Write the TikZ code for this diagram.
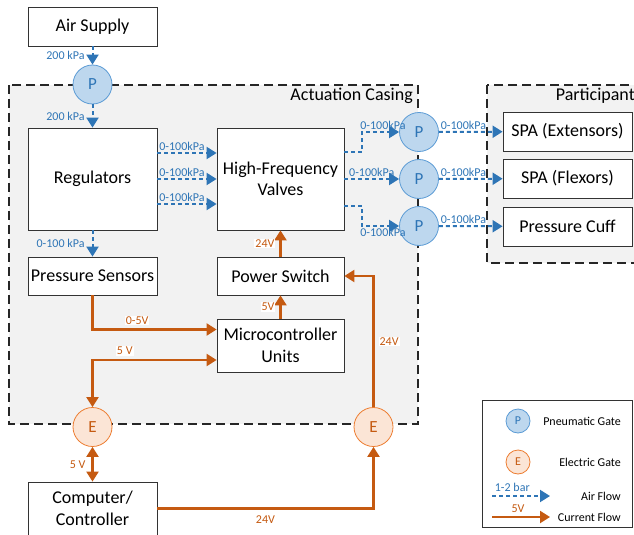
\documentclass[tikz,border=0pt]{standalone}
\usepackage{fontspec}
\setmainfont{Carlito}
\usetikzlibrary{arrows.meta,calc,positioning}

\definecolor{airblue}{HTML}{2E75B6}
\definecolor{gateblue}{HTML}{BDD7EE}
\definecolor{gatebluedraw}{HTML}{5B9BD5}
\definecolor{wireorange}{HTML}{C55A11}
\definecolor{gateorange}{HTML}{FBE5D6}
\definecolor{gateorangedraw}{HTML}{ED7D31}
\definecolor{casegray}{HTML}{F2F2F2}

\tikzset{
  block/.style={draw=black!80, line width=0.8pt, fill=white, minimum width=129pt,
    inner sep=1pt, align=center, font=\fontsize{18}{21.5}\selectfont},
  pgate/.style={circle, draw=gatebluedraw, fill=gateblue, line width=0.8pt,
    minimum size=39pt, inner sep=0pt, text=airblue, font=\fontsize{17}{20}\selectfont},
  egate/.style={circle, draw=gateorangedraw, fill=gateorange, line width=0.8pt,
    minimum size=39pt, inner sep=0pt, text=wireorange, font=\fontsize{17}{20}\selectfont},
  tip/.style={-{Triangle[length=10pt,width=12pt]}},
  airflow/.style={airblue, line width=2pt, dash pattern=on 4pt off 3pt, tip},
  current/.style={wireorange, line width=2.2pt, tip},
  dualcurrent/.style={wireorange, line width=2.2pt,
    {Triangle[length=10pt,width=12pt]}-{Triangle[length=10pt,width=12pt]}},
  airlbl/.style={text=airblue, inner sep=1pt, font=\fontsize{12}{14}\selectfont},
  wirelbl/.style={text=wireorange, fill=white, inner sep=1pt, font=\fontsize{12}{14}\selectfont},
  casing/.style={draw=black!85, line width=1.3pt, dash pattern=on 9pt off 5pt, fill=casegray},
  legtext/.style={inner sep=1pt, font=\fontsize{12}{14}\selectfont}
}

\begin{document}
\begin{tikzpicture}[x=1pt,y=-1pt]

                \useasboundingbox (0,0) rectangle (634,535);

                % Draw casings.
                \draw[casing] (9,85) rectangle (418,424);
                \node[anchor=north east, inner sep=1pt, font=\fontsize{18}{21.5}\selectfont] (casetitle) at (414,87) {Actuation Casing};
                \draw[casing] (487,85) rectangle (660,263);
                \node[anchor=north east, inner sep=1pt, font=\fontsize{18}{21.5}\selectfont] (parttitle) at (636,87) {Participant};

                % Place blocks.
                \node[block, minimum height=39pt] (air) at (92.5,26.5) {Air Supply};
                \node[block, minimum height=102pt] (reg) at (92.5,179) {Regulators};
                \node[block, minimum width=127pt, minimum height=102pt] (hfv) at (280.5,179) {High-Frequency\\Valves};
                \node[block, minimum height=38pt] (psens) at (92.5,276) {Pressure Sensors};
                \node[block, minimum width=127pt, minimum height=38pt] (psw) at (280.5,276) {Power Switch};
                \node[block, minimum width=127pt, minimum height=53pt] (mcu) at (280.5,345.5) {Microcontroller\\Units};
                \node[block, minimum height=53pt] (comp) at (92.5,508.5) {Computer/\\Controller};
                \node[block, minimum height=39pt] (spaext) at (567.5,131.5) {SPA (Extensors)};
                \node[block, minimum height=39pt] (spaflx) at (567.5,178.5) {SPA (Flexors)};
                \node[block, minimum height=39pt] (cuff) at (567.5,226.5) {Pressure Cuff};

                % Place gates.
                \node[pgate] (pg0) at (92.5,84.5) {P};
                \node[pgate] (pg1) at (419,132) {P};
                \node[pgate] (pg2) at (419,179) {P};
                \node[pgate] (pg3) at (419,226) {P};
                \node[egate] (eL) at (92.5,427) {E};
                \node[egate] (eR) at (373.5,427) {E};

                % Air lines.
                \draw[airflow] (air) -- (pg0) node[airlbl, midway, left=6pt] {200 kPa};
                \draw[airflow] (pg0) -- (reg) node[airlbl, midway, left=6pt] {200 kPa};
                \draw[airflow] (reg) -- (psens) node[airlbl, midway, left=6pt] {0-100 kPa};
                \foreach \dy in {26,0,-25}
                    \draw[airflow] ([yshift=\dy pt]reg.east) -- ([yshift=\dy pt]hfv.west)
                        node[airlbl, pos=0, above right] {0-100kPa};
                \draw[airflow] ([yshift=27pt]hfv.east) -- ++(18,0) |- (pg1)
                    node[airlbl, pos=0.78, above] {0-100kPa};
                \draw[airflow] (hfv.east) -- (pg2) node[airlbl, midway, above] {0-100kPa};
                \draw[airflow] ([yshift=-27pt]hfv.east) -- ++(18,0) |- (pg3)
                    node[airlbl, pos=0.78, below] {0-100kPa};
                \draw[airflow] (pg1) -- (spaext) node[airlbl, pos=0, above right] {0-100kPa};
                \draw[airflow] (pg2) -- (spaflx) node[airlbl, pos=0, above right] {0-100kPa};
                \draw[airflow] (pg3) -- (cuff) node[airlbl, pos=0, above right] {0-100kPa};

                % Current lines.
                \draw[current] (psw) -- (hfv) node[wirelbl, midway, left=4pt] {24V};
                \draw[current] (mcu) -- (psw) node[wirelbl, midway, left=4pt] {5V};
                \draw[current] (psens) |- ([yshift=16pt]mcu.west) node[wirelbl, pos=0.68, above=3pt] {0-5V};
                \draw[dualcurrent] (eL) |- ([yshift=-14.5pt]mcu.west) node[wirelbl, pos=0.63, above=3pt] {5 V};
                \draw[current] (eR) |- (psw) node[wirelbl, pos=0.25, right=4pt] {24V};
                \draw[dualcurrent] (eL) -- (comp) node[wirelbl, midway, left=5pt] {5 V};
                \draw[current] (comp) -| (eR) node[wirelbl, pos=0.25, below=5pt] {24V};

                % Legend.
                \draw[draw=black!80, line width=0.8pt, fill=white] (482,400) rectangle (632,527);
                \node[pgate, minimum size=24pt, font=\fontsize{12}{14}\selectfont] (legP) at (518,421) {P};
                \node[legtext, anchor=east] (legPtext) at (622,421) {Pneumatic Gate};
                \node[egate, minimum size=24pt, font=\fontsize{12}{14}\selectfont] (legE) at (518,462) {E};
                \node[legtext, anchor=east] (legEtext) at (622,462) {Electric Gate};
                \coordinate (la1) at (492,496);
                \coordinate (la2) at (550,496);
                \draw[airflow] (la1) -- (la2) node[airlbl, pos=0.35, above=2pt] {1-2 bar};
                \node[legtext, anchor=east] (legAtext) at (622,496) {Air Flow};
                \coordinate (lc1) at (492,517);
                \coordinate (lc2) at (550,517);
                \draw[current] (lc1) -- (lc2) node[wirelbl, pos=0.45, above=2pt] {5V};
                \node[legtext, anchor=east] (legCtext) at (622,517) {Current Flow};

\end{tikzpicture}
\end{document}
